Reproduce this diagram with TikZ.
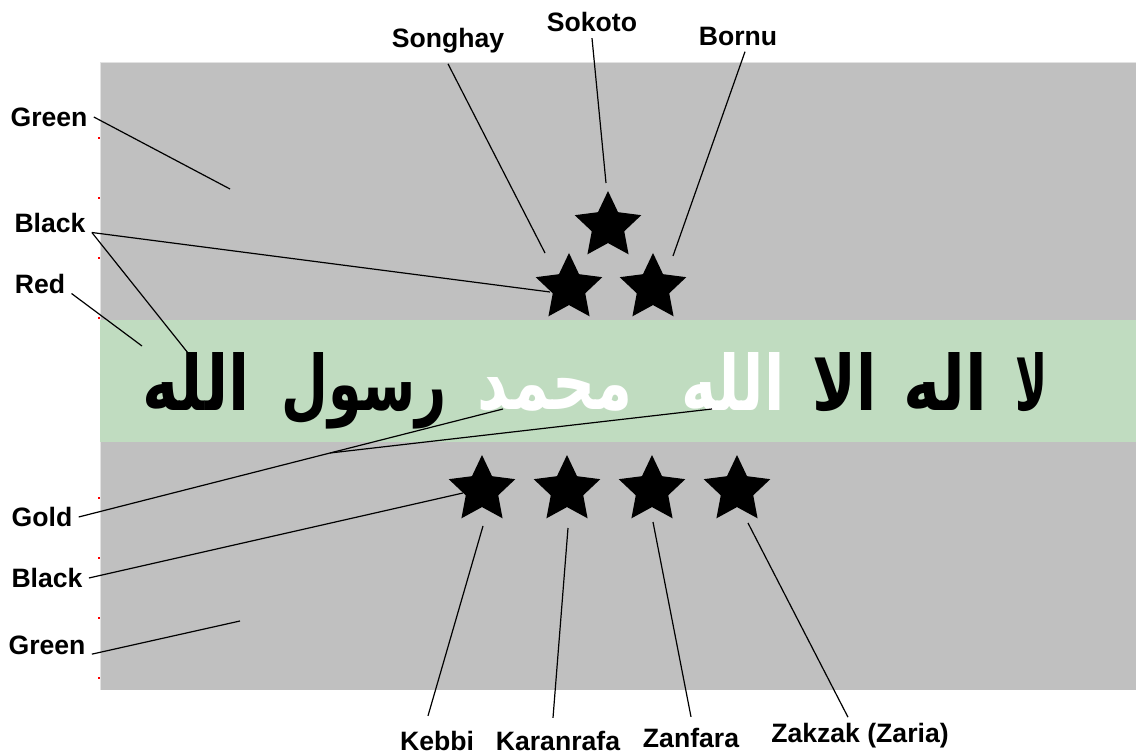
\documentclass[tikz,border=0pt]{standalone}
\usepackage{fontspec}
\setmainfont{Liberation Sans}
\newfontfamily\arabicfont[Script=Arabic]{DejaVu Sans}
\TeXXeTstate=1
\usepackage{graphicx}
\usepackage{tikz}
\usetikzlibrary{shapes,calc,positioning}
\definecolor{flaggray}{RGB}{192,192,192}
\definecolor{bandgreen}{RGB}{192,220,192}
\definecolor{edgegray}{RGB}{226,226,226}

\tikzset{
  lbl/.style={font=\fontsize{13.3}{16}\selectfont\bfseries, inner sep=3pt},
  flagstar/.style={shape=star, star points=5, star point ratio=2.05, fill=black, minimum size=35pt, inner sep=0},
  pointer/.style={line width=0.6pt},
  word/.style={anchor=base, inner sep=0, font=\arabicfont\bfseries},
}

\begin{document}
\begin{tikzpicture}[x=0.5pt,y=-0.5pt]
        \useasboundingbox (0,0) rectangle (1136,754);
        % flag field and the band
        \fill[flaggray] (100,63) rectangle (1136,690);
        \draw[edgegray,line width=0.5pt] (100,690) -- (100,63) -- (1136,63);
        \fill[bandgreen] (100,320) rectangle (1136,442);
        % little red ticks on the left edge
        \foreach \y in {137,197,257,317,497,557,617,677}
          \fill[red] (98,\y) rectangle (100,\y+2);
        % the stars
        \node[flagstar] (sokoto) at (608,226) {};
        \node[flagstar] (songhay) at (569,288) {};
        \node[flagstar] (bornu) at (653,288) {};
        \node[flagstar] (kebbi) at (482,490) {};
        \node[flagstar] (karanrafa) at (567,490) {};
        \node[flagstar] (zanfara) at (652,490) {};
        \node[flagstar] (zakzak) at (737,490) {};
        % the writing on the band
        \node[word] (wLa) at (1031,410) {\resizebox{16pt}{29pt}{\beginR لا\endR}};
        \node[word] (wIlah) at (945,410) {\resizebox{42pt}{29pt}{\beginR اله\endR}};
        \node[word] (wIlla) at (845,410) {\resizebox{32pt}{29pt}{\beginR الا\endR}};
        \node[word,text=white] (wAllahA) at (733,410) {\resizebox{51.5pt}{29pt}{\beginR الله\endR}};
        \node[word,text=white] (wMuhammad) at (555,410) {\resizebox{77.5pt}{16pt}{\beginR محمد\endR}};
        \node[word] (wRasul) at (364,410) {\resizebox{82.5pt}{29pt}{\beginR رسول\endR}};
        \node[word] (wAllahB) at (196,410) {\resizebox{53.5pt}{29pt}{\beginR الله\endR}};
        % label the colours
        \node[lbl] (greenTop) at (49,117) {Green};
        \node[lbl] (blackTop) at (50,223) {Black};
        \node[lbl] (red) at (40,284) {Red};
        \node[lbl] (gold) at (42,517) {Gold};
        \node[lbl] (blackLow) at (47,578) {Black};
        \node[lbl] (greenLow) at (47,645) {Green};
        % label the stars
        \node[lbl] (songhayLbl) at (448,41) {Songhay};
        \node[lbl] (sokotoLbl) at (592,22) {Sokoto};
        \node[lbl] (bornuLbl) at (738,36) {Bornu};
        \node[lbl] (kebbiLbl) at (437,741) {Kebbi};
        \node[lbl] (karanLbl) at (558,741) {Karanrafa};
        \node[lbl] (zanLbl) at (691,738) {Zanfara};
        \node[lbl] (zakLbl) at (860,736) {Zakzak (Zaria)};
        % ends of the pointers
        \coordinate (greenTopEnd) at (230,189);
        \coordinate (blackStarEnd) at (550,292);
        \coordinate (blackTextEnd) at (188,353);
        \coordinate (redEnd) at (142,346);
        \coordinate (goldFork) at (330,453);
        \coordinate (goldEndA) at (503,409);
        \coordinate (goldEndB) at (712,409);
        \coordinate (blackLowEnd) at (463,493);
        \coordinate (greenLowEnd) at (240,621);
        \coordinate (songhayEnd) at (545,253);
        \coordinate (sokotoEnd) at (606,183);
        \coordinate (bornuEnd) at (673,256);
        \coordinate (kebbiEnd) at (483,526);
        \coordinate (karanEnd) at (568,528);
        \coordinate (zanEnd) at (653,522);
        \coordinate (zakEnd) at (748,523);
        % the pointers
        \draw[pointer] (greenTop.east) -- (greenTopEnd);
        \draw[pointer] (blackTop.base east) -- (blackStarEnd);
        \draw[pointer] (blackTop.base east) -- (blackTextEnd);
        \draw[pointer] (red.base east) -- (redEnd);
        \draw[pointer] (gold.east) -- (goldFork) -- (goldEndA);
        \draw[pointer] (goldFork) -- (goldEndB);
        \draw[pointer] (blackLow.east) -- (blackLowEnd);
        \draw[pointer] (greenLow.base east) -- (greenLowEnd);
        \draw[pointer] ([yshift=-2pt]songhayLbl.south) -- (songhayEnd);
        \draw[pointer] (sokotoLbl.south) -- (sokotoEnd);
        \draw[pointer] ([xshift=3.5pt]bornuLbl.south) -- (bornuEnd);
        \draw[pointer] ([xshift=-4.5pt,yshift=4.5pt]kebbiLbl.north) -- (kebbiEnd);
        \draw[pointer] ([xshift=-2.5pt,yshift=3.5pt]karanLbl.north) -- (karanEnd);
        \draw[pointer] ([yshift=2.5pt]zanLbl.north) -- (zanEnd);
        \draw[pointer] ([xshift=-6pt]zakLbl.north) -- (zakEnd);
      \end{tikzpicture}
\end{document}
